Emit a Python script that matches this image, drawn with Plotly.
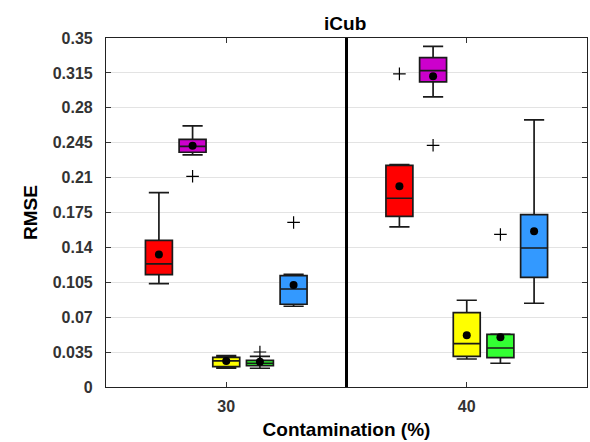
import plotly.graph_objects as go

groups = [30, 40]
methods = ["Method A", "Method B", "Method C", "Method D", "Method E"]
colors = ["#FF0000", "#CC00CC", "#FFFF00", "#33FF33", "#3399FF"]

# values per method: [group30, group40]
lower = [[0.1036, 0.1605], [0.2327, 0.2909], [0.0188, 0.0281], [0.0188, 0.0238], [0.0810, 0.0840]]
q1    = [[0.1126, 0.1712], [0.2354, 0.3059], [0.0204, 0.0308], [0.0214, 0.0294], [0.0830, 0.1100]]
med   = [[0.1234, 0.1893], [0.2414, 0.3173], [0.0261, 0.0434], [0.0238, 0.0391], [0.0983, 0.1394]]
q3    = [[0.1470, 0.2223], [0.2484, 0.3303], [0.0298, 0.0745], [0.0268, 0.0528], [0.1116, 0.1728]]
upper = [[0.1950, 0.2230], [0.2618, 0.3417], [0.0314, 0.0870], [0.0308, 0.0530], [0.1130, 0.2678]]
means = [[0.1330, 0.2013], [0.2420, 0.3116], [0.0260, 0.0518], [0.0254, 0.0498], [0.1023, 0.1562]]

# outliers: (method index, group index, value)
outliers = [(1, 0, 0.2113), (3, 0, 0.0351), (4, 0, 0.1650),
            (0, 1, 0.3140), (1, 1, 0.2424), (3, 1, 0.1530)]

yticks = [0, 0.035, 0.07, 0.105, 0.14, 0.175, 0.21, 0.245, 0.28, 0.315, 0.35]
ytick_text = ["0", "0.035", "0.07", "0.105", "0.14", "0.175", "0.21", "0.245", "0.28", "0.315", "0.35"]

spacing = 1.4
box_w = 1.12

def pos(m, g):
    return groups[g] + (m - 2) * spacing

fig = go.Figure()
for m in range(len(methods)):
    xs = [pos(m, g) for g in range(len(groups))]
    fig.add_trace(go.Box(
        x=xs, q1=q1[m], median=med[m], q3=q3[m],
        lowerfence=lower[m], upperfence=upper[m],
        name=methods[m], fillcolor=colors[m],
        line=dict(color="#1A1A1A", width=1.7),
        width=box_w, whiskerwidth=0.75, boxpoints=False,
        showlegend=False, hoverinfo="skip"))
    fig.add_trace(go.Scatter(
        x=xs, y=means[m], mode="markers",
        marker=dict(color="black", size=8, symbol="circle"),
        showlegend=False, hoverinfo="skip"))

fig.add_trace(go.Scatter(
    x=[pos(m, g) for m, g, v in outliers],
    y=[v for m, g, v in outliers],
    mode="markers",
    marker=dict(symbol="cross-thin", size=9, line=dict(color="black", width=1.2)),
    showlegend=False, hoverinfo="skip"))

fig.add_shape(type="line", x0=35, x1=35, y0=0, y1=0.35, xref="x", yref="y",
              line=dict(color="black", width=3))

FAM = "Liberation Sans, Arial, sans-serif"
font_b = dict(family=FAM, size=16, color="#333333", weight="bold")
font_t = dict(family=FAM, size=19, color="black", weight="bold")

fig.update_layout(
    width=590, height=442,
    margin=dict(l=106, r=3, t=38, b=55),
    paper_bgcolor="white", plot_bgcolor="white",
    boxmode="overlay",
    title=dict(text="iCub", x=0.585, xanchor="center", y=0.963, yanchor="top",
               font=dict(family=FAM, size=19, color="black", weight="bold")),
    xaxis=dict(range=[25, 45], tickvals=groups, ticktext=["30", "40"],
               ticks="inside", ticklen=5, tickcolor="#333333",
               showline=True, linecolor="#222222", linewidth=1.2, mirror="ticks",
               showgrid=False, zeroline=False, tickfont=font_b, ticklabelstandoff=5,
               title=dict(text="Contamination (%)", standoff=8, font=font_t)),
    yaxis=dict(range=[0, 0.35], tickvals=yticks, ticktext=ytick_text,
               ticks="inside", ticklen=5, tickcolor="#333333",
               showline=True, linecolor="#222222", linewidth=1.2, mirror="ticks",
               showgrid=True, gridcolor="#E3E3E3", gridwidth=1.2, zeroline=False,
               tickfont=font_b, ticklabelstandoff=9,
               title=dict(text="RMSE", standoff=10, font=font_t)),
)

fig.write_html("out.html", config={"displayModeBar": False},
               post_script="document.body.style.margin='0';")
